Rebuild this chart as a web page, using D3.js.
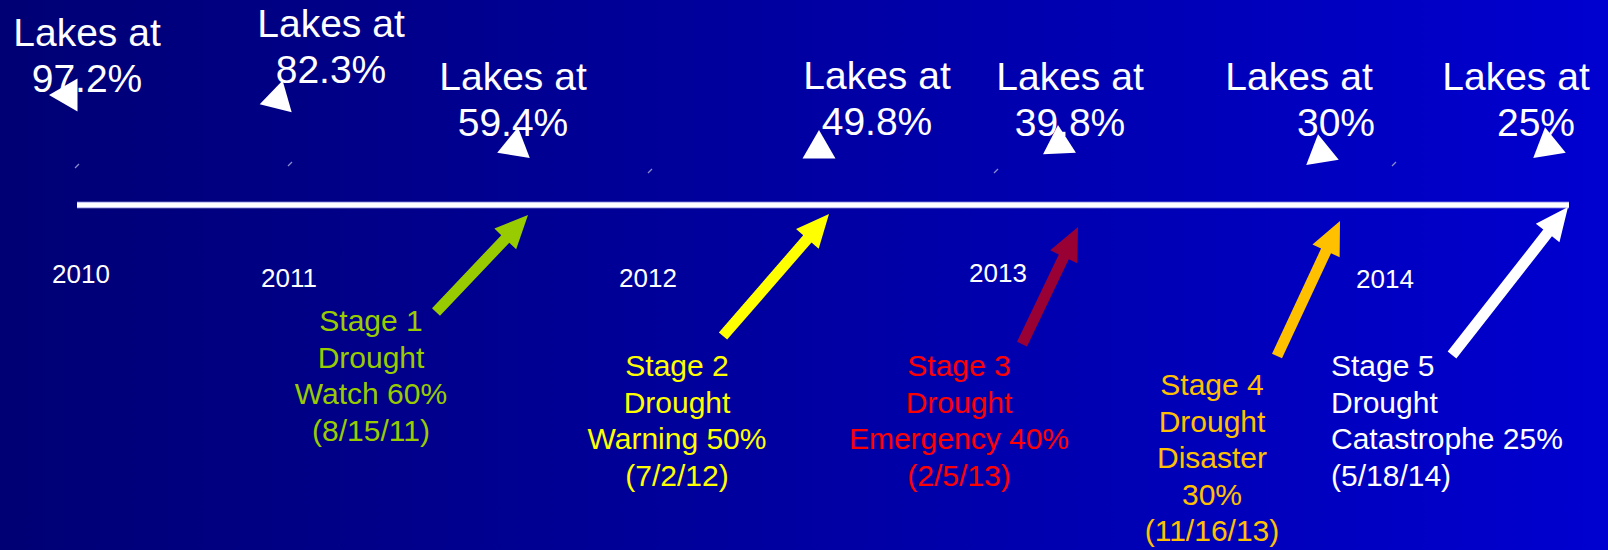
<!DOCTYPE html>
<html><head><meta charset="utf-8">
<script src="https://cdn.jsdelivr.net/npm/d3@7"></script>
<style>html,body{margin:0;padding:0;background:#000080;overflow:hidden}svg{display:block}</style>
</head><body><svg id="chart" width="1608" height="550"></svg>
<script>
// ---------------- DATA ----------------
const years = [2010, 2011, 2012, 2013, 2014];
const lakeLevels = ["97.2%", "82.3%", "59.4%", "49.8%", "39.8%", "30%", "25%"];
const lakeDates = ["2010-01-01", "2011-01-01", "2011-08-15", "2012-07-02", "2013-02-05", "2013-11-16", "2014-05-18"];
const stageNumbers = [1, 2, 3, 4, 5];
const stageNames = ["Watch", "Warning", "Emergency", "Disaster", "Catastrophe"];
const stageTriggers = ["60%", "50%", "40%", "30%", "25%"];
const stageDates = ["8/15/11", "7/2/12", "2/5/13", "11/16/13", "5/18/14"];

// ---------------- LAYOUT (slide placement, not data) ----------------
const W = 1608, H = 550;
// the slide's timeline is hand-drawn, so the time scale is piecewise
const timeAnchors = ["2010-01-01", "2011-01-01", "2011-08-15", "2012-01-01", "2012-07-02", "2013-01-01", "2013-02-05", "2013-11-16", "2014-01-01", "2014-05-18"];
const anchorPx = [81, 289, 528, 648, 829, 998, 1078, 1340, 1385, 1568];
const lineY = 205;
const yearLabelY = [283, 287, 287, 282, 288];
const slashLayout = [[-4, 166], [1, 164], [2, 171], [-2, 171], [9, 164]];
const lakeLayout = [
  {dx1: 6, dx2: 6, y: 46, tri: [-13, 95, -90]},
  {dx1: 42, dx2: 42, y: 37, tri: [-11, 99, -106]},
  {dx1: -15, dx2: -15, y: 90, tri: [-13, 146, 9]},
  {dx1: 48, dx2: 48, y: 89, tri: [-10, 149, 0]},
  {dx1: -8, dx2: -8, y: 90, tri: [-19, 144, -3]},
  {dx1: -41, dx2: -4, y: 90, tri: [-19, 153, -9]},
  {dx1: -52, dx2: -32, y: 90, tri: [-20, 146, -9]}
];
const stageLayout = [
  {tipY: 215, tailDx: -92, tailY: 312, labelDx: -157, labelY: 331, anchor: "middle", wrap: false},
  {tipY: 214, tailDx: -106, tailY: 336, labelDx: -152, labelY: 376, anchor: "middle", wrap: false},
  {tipY: 227, tailDx: -56, tailY: 344, labelDx: -119, labelY: 376, anchor: "middle", wrap: false},
  {tipY: 221, tailDx: -63, tailY: 356, labelDx: -128, labelY: 395, anchor: "middle", wrap: true},
  {tipY: 207, tailDx: -116, tailY: 355, labelDx: -237, labelY: 376, anchor: "start", wrap: false}
];
const stageTextColors = ["#99cc00", "#ffff00", "#ff0000", "#ffc000", "#ffffff"];
const stageArrowColors = ["#99cc00", "#ffff00", "#990033", "#ffc000", "#ffffff"];
const FONT = "'Liberation Sans', Arial, Helvetica, sans-serif";

// ---------------- DRAW ----------------
const parse = d3.timeParse("%Y-%m-%d");
const parseMDY = d3.timeParse("%m/%d/%y");
const x = d3.scaleTime().domain(timeAnchors.map(parse)).range(anchorPx);

const svg = d3.select("#chart");
const defs = svg.append("defs");
const grad = defs.append("linearGradient").attr("id", "bg").attr("x1", "0").attr("y1", "0").attr("x2", "1").attr("y2", "0");
grad.append("stop").attr("offset", "0").attr("stop-color", "#000074");
grad.append("stop").attr("offset", "1").attr("stop-color", "#0000d0");
svg.append("rect").attr("width", W).attr("height", H).attr("fill", "url(#bg)");

// timeline bar
const first = x(parse(lakeDates[0])) - 4, last = x(parseMDY(stageDates[4])) + 1;
svg.append("line").attr("x1", first).attr("x2", last).attr("y1", lineY).attr("y2", lineY)
  .attr("stroke", "#c8c8f4").attr("stroke-width", 6.5);
svg.append("line").attr("x1", first).attr("x2", last).attr("y1", lineY).attr("y2", lineY)
  .attr("stroke", "#ffffff").attr("stroke-width", 4);

// tiny tick slashes
svg.selectAll(".slash").data(years).join("line").attr("class", "slash")
  .attr("x1", (d, i) => x(new Date(d, 0, 1)) + slashLayout[i][0] - 2)
  .attr("x2", (d, i) => x(new Date(d, 0, 1)) + slashLayout[i][0] + 2)
  .attr("y1", (d, i) => slashLayout[i][1] + 2)
  .attr("y2", (d, i) => slashLayout[i][1] - 2)
  .attr("stroke", "#8c8ccc").attr("stroke-width", 1.2);

// year labels
svg.selectAll(".year").data(years).join("text").attr("class", "year")
  .attr("x", d => x(new Date(d, 0, 1)))
  .attr("y", (d, i) => yearLabelY[i])
  .attr("text-anchor", "middle").attr("fill", "#fff")
  .attr("font-family", FONT).attr("font-size", 26)
  .text(d => d);

// lake level labels
const lakes = lakeLevels.map((v, i) => ({level: v, date: parse(lakeDates[i]), L: lakeLayout[i]}));
const lg = svg.selectAll(".lake").data(lakes).join("g").attr("class", "lake");
lg.append("text").attr("x", d => x(d.date) + d.L.dx1).attr("y", d => d.L.y)
  .attr("text-anchor", "middle").attr("fill", "#fff").attr("font-family", FONT).attr("font-size", 39)
  .text("Lakes at");
lg.append("text").attr("x", d => x(d.date) + d.L.dx2).attr("y", d => d.L.y + 46)
  .attr("text-anchor", "middle").attr("fill", "#fff").attr("font-family", FONT).attr("font-size", 39)
  .text(d => d.level);
const tri = d3.symbol(d3.symbolTriangle, 470);
lg.append("path").attr("d", tri)
  .attr("transform", d => `translate(${x(d.date) + d.L.tri[0]},${d.L.tri[1]}) rotate(${d.L.tri[2]})`)
  .attr("fill", "#fff");

// stage arrows + labels
const stages = stageNumbers.map((n, i) => ({
  n, name: stageNames[i], trig: stageTriggers[i], dateStr: stageDates[i],
  date: parseMDY(stageDates[i]), L: stageLayout[i], tc: stageTextColors[i], ac: stageArrowColors[i]
}));
function arrowPts(tx, ty, px, py) {
  const dx = px - tx, dy = py - ty, len = Math.hypot(dx, dy);
  const ux = dx / len, uy = dy / len, nx = -uy, ny = ux;
  const sw = 5.5, hw = 15, hl = 33;
  const bx = px - ux * hl, by = py - uy * hl;
  return [[tx + nx * sw, ty + ny * sw], [bx + nx * sw, by + ny * sw], [bx + nx * hw, by + ny * hw], [px, py],
          [bx - nx * hw, by - ny * hw], [bx - nx * sw, by - ny * sw], [tx - nx * sw, ty - ny * sw]];
}
const lineGen = d3.line();
const sg = svg.selectAll(".stage").data(stages).join("g").attr("class", "stage");
sg.append("path").attr("d", d => {
  const px = x(d.date);
  return lineGen(arrowPts(px + d.L.tailDx, d.L.tailY, px, d.L.tipY)) + "Z";
}).attr("fill", d => d.ac);
sg.each(function (d) {
  const lines = d.L.wrap
    ? ["Stage " + d.n, "Drought", d.name, d.trig, "(" + d.dateStr + ")"]
    : ["Stage " + d.n, "Drought", d.name + " " + d.trig, "(" + d.dateStr + ")"];
  const t = d3.select(this).append("text")
    .attr("fill", d.tc).attr("font-family", FONT).attr("font-size", 30)
    .attr("text-anchor", d.L.anchor);
  t.selectAll("tspan").data(lines).join("tspan")
    .attr("x", x(d.date) + d.L.labelDx)
    .attr("y", (s, j) => d.L.labelY + j * 36.5)
    .text(s => s);
});
</script></body></html>
